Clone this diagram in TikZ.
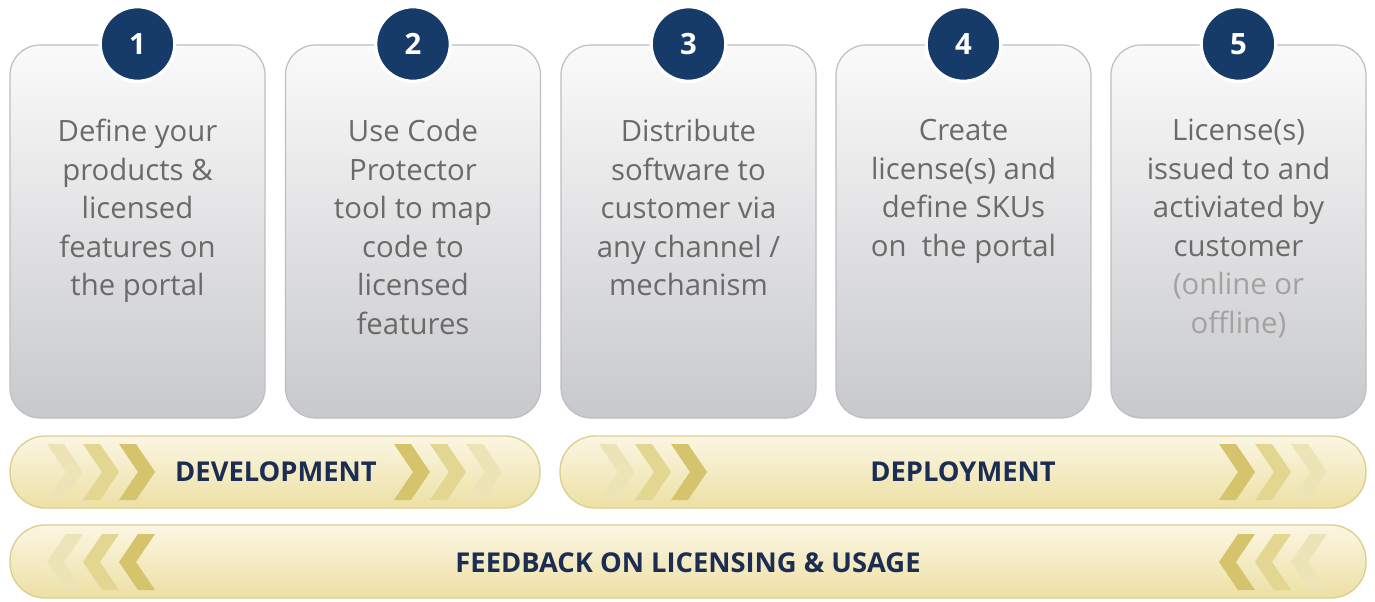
\documentclass[tikz,border=0pt]{standalone}
\usepackage{fontspec}
\setmainfont{Open Sans}
\usetikzlibrary{positioning}
\definecolor{navy}{HTML}{173B69}
\definecolor{labelnavy}{HTML}{1B2D52}
\definecolor{boxtop}{HTML}{FAFAFA}
\definecolor{boxbot}{HTML}{C8C9CC}
\definecolor{boxline}{HTML}{BDBEC1}
\definecolor{txtgray}{HTML}{6A6A6A}
\definecolor{txtlight}{HTML}{A2A2A2}
\definecolor{bartop}{HTML}{FBF6E3}
\definecolor{barbot}{HTML}{EDE0A4}
\definecolor{barline}{HTML}{DCCE90}
\definecolor{chevdark}{HTML}{D5C46C}
\definecolor{chevmid}{HTML}{E2D690}
\definecolor{chevlight}{HTML}{ECE4B6}
\tikzset{
  stepcard/.style={draw=boxline, line width=0.9pt, rounded corners=22.5pt,
    top color=boxtop, bottom color=boxbot, minimum width=191.25pt,
    minimum height=279.75pt, inner sep=0pt},
  numdisc/.style={circle, fill=navy, draw=white, line width=2.5pt,
    minimum size=56pt, inner sep=0pt, text=white, font=\fontsize{22}{22}\selectfont\bfseries},
  cardtext/.style={align=center, text=txtgray, inner sep=0pt, anchor=north,
    font=\fontsize{22}{28.9}\selectfont},
  phasebar/.style={draw=barline, line width=1pt, rounded corners=26.5pt,
    top color=bartop, bottom color=barbot, minimum height=54pt, inner sep=0pt},
  phaselabel/.style={text=labelnavy, font=\fontsize{20.5}{20.5}\selectfont\bfseries, inner sep=0pt}
}
% right-pointing chevron: left x, centre y, colour
\newcommand{\chevright}[3]{\fill[#3] (#1,#2-28) -- ++(17,0) -- ++(19,28) -- ++(-19,28) -- ++(-17,0) -- ++(19,-28) -- cycle;}
% left-pointing chevron: left x (of tip), centre y, colour
\newcommand{\chevleft}[3]{\fill[#3] (#1+36,#2-28) -- ++(-17,0) -- ++(-19,28) -- ++(19,28) -- ++(17,0) -- ++(-19,-28) -- cycle;}
\begin{document}
\begin{tikzpicture}[x=0.75pt, y=-0.75pt]
\useasboundingbox[fill=white] (0,0) rectangle (1375,601);
% cards
\node[stepcard] (c1) at (137.5,231.5) {};
\node[stepcard] (c2) at (413,231.5) {};
\node[stepcard] (c3) at (688.5,231.5) {};
\node[stepcard] (c4) at (963.5,231.5) {};
\node[stepcard] (c5) at (1238.5,231.5) {};
% number discs
\node[numdisc] (n1) at (137.5,44) {1};
\node[numdisc] (n2) at (413,44) {2};
\node[numdisc] (n3) at (688.5,44) {3};
\node[numdisc] (n4) at (963.5,44) {4};
\node[numdisc] (n5) at (1238.5,44) {5};
% card texts
\node[cardtext] (t1) at (137.5,119) {Define your\\products \&\\licensed\\features on\\the portal};
\node[cardtext] (t2) at (413,119) {Use Code\\Protector\\tool to map\\code to\\licensed\\features};
\node[cardtext] (t3) at (688.5,119) {Distribute\\software to\\customer via\\any channel /\\mechanism};
\node[cardtext] (t4) at (963.5,119) {Create\\license(s) and\\define SKUs\\on~ the portal};
\node[cardtext] (t5) at (1238.5,119) {License(s)\\issued to and\\activiated by\\customer\\\textcolor{txtlight}{(online or}\\\textcolor{txtlight}{offline)}};
% phase bars
\node[phasebar, minimum width=397.5pt] (dev) at (275,472) {};
\node[phasebar, minimum width=604.5pt] (dep) at (963,472) {};
\node[phasebar, minimum width=1017pt, minimum height=54.75pt] (fb) at (688,561.5) {};
% chevrons development
\chevright{47}{472}{chevlight}
\chevright{83}{472}{chevmid}
\chevright{119}{472}{chevdark}
\chevright{394}{472}{chevdark}
\chevright{430}{472}{chevmid}
\chevright{466}{472}{chevlight}
% chevrons deployment
\chevright{599}{472}{chevlight}
\chevright{635}{472}{chevmid}
\chevright{671}{472}{chevdark}
\chevright{1219}{472}{chevdark}
\chevright{1255}{472}{chevmid}
\chevright{1291}{472}{chevlight}
% chevrons feedback
\chevleft{47}{562}{chevlight}
\chevleft{83}{562}{chevmid}
\chevleft{119}{562}{chevdark}
\chevleft{1219}{562}{chevdark}
\chevleft{1255}{562}{chevmid}
\chevleft{1291}{562}{chevlight}
% phase labels
\node[phaselabel] (ldev) at (276,472) {DEVELOPMENT};
\node[phaselabel] (ldep) at (963,472) {DEPLOYMENT};
\node[phaselabel] (lfb) at (688,563) {FEEDBACK ON LICENSING \& USAGE};
\end{tikzpicture}
\end{document}
